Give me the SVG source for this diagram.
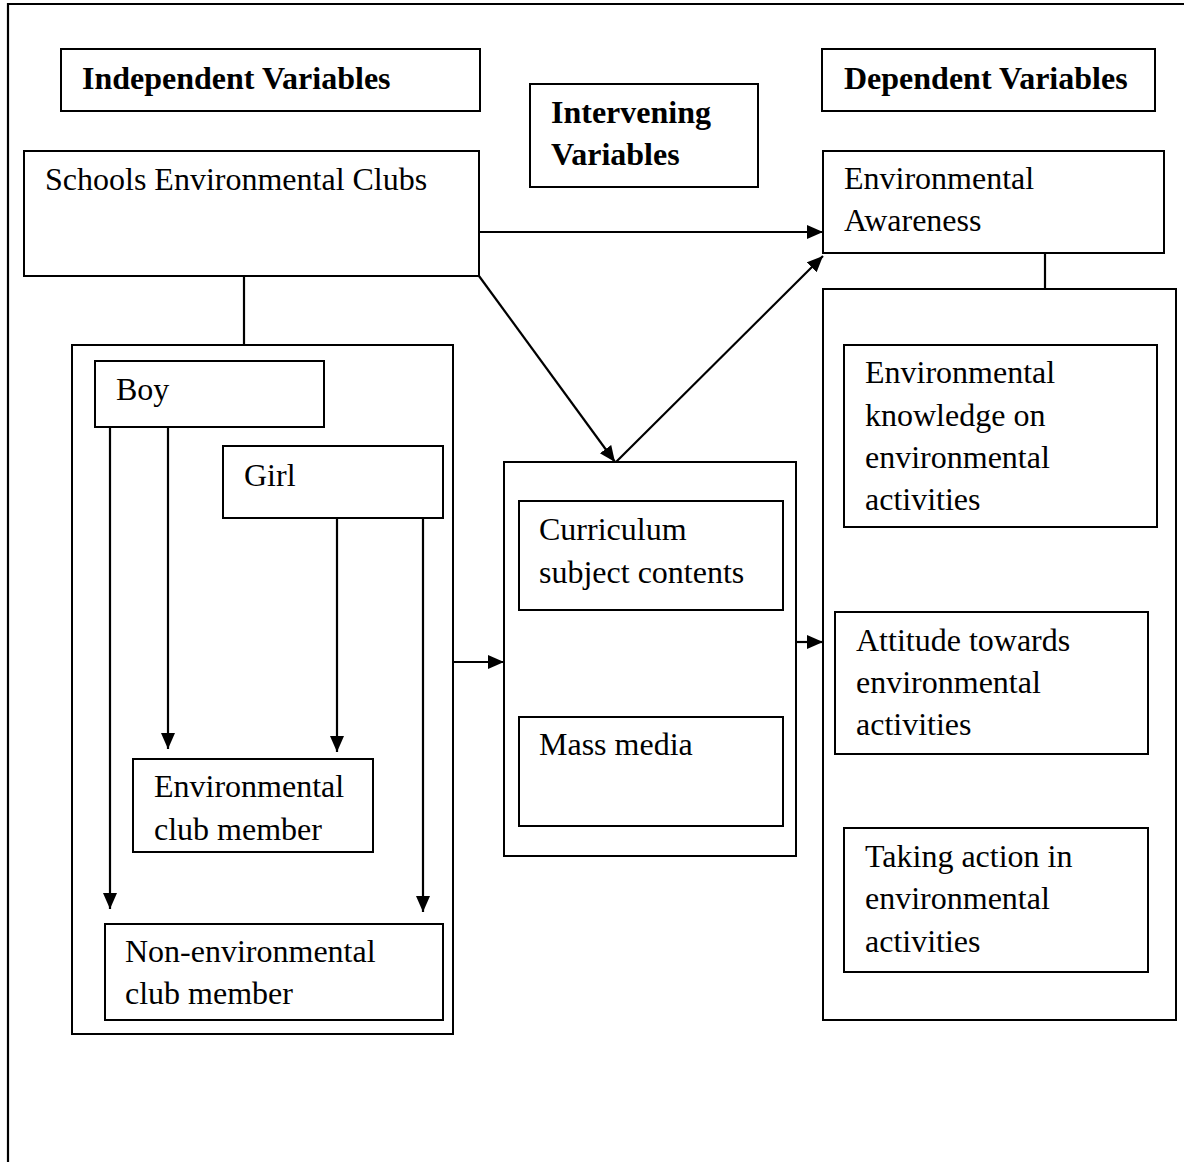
<svg xmlns="http://www.w3.org/2000/svg" width="1184" height="1162" viewBox="0 0 1184 1162">
<style>
.box{fill:none;stroke:#000;stroke-width:2}
.t{font-family:"Liberation Serif","Times New Roman",serif;font-size:32px;fill:#000}
.b{font-weight:bold}
.c{stroke:#000;stroke-width:2.2;fill:none}
</style>
<defs>
<marker id="ah" markerUnits="userSpaceOnUse" markerWidth="18" markerHeight="16" refX="16" refY="7" orient="auto">
<path d="M0,0 L16,7 L0,14 z" fill="#000"/>
</marker>
</defs>
<rect width="1184" height="1162" fill="#fff"/>
<g id="frame"><path class="c" d="M8,1162 V4 H1184"/></g>
<g id="independent-header"><rect class="box" x="61" y="49" width="419" height="62"/><text class="t b" x="82" y="89">Independent Variables</text></g>
<g id="intervening-header"><rect class="box" x="530" y="84" width="228" height="103"/><text class="t b" x="551" y="123">Intervening</text><text class="t b" x="551" y="165">Variables</text></g>
<g id="dependent-header"><rect class="box" x="822" y="49" width="333" height="62"/><text class="t b" x="844" y="89">Dependent Variables</text></g>
<g id="schools"><rect class="box" x="24" y="151" width="455" height="125"/><text class="t" x="45" y="190">Schools Environmental Clubs</text></g>
<g id="awareness"><rect class="box" x="823" y="151" width="341" height="102"/><text class="t" x="844" y="189">Environmental</text><text class="t" x="844" y="231">Awareness</text></g>
<g id="left-group"><rect class="box" x="72" y="345" width="381" height="689"/></g>
<g id="boy"><rect class="box" x="95" y="361" width="229" height="66"/><text class="t" x="116" y="400">Boy</text></g>
<g id="girl"><rect class="box" x="223" y="446" width="220" height="72"/><text class="t" x="244" y="486">Girl</text></g>
<g id="env-member"><rect class="box" x="133" y="759" width="240" height="93"/><text class="t" x="154" y="797">Environmental</text><text class="t" x="154" y="840">club member</text></g>
<g id="non-env-member"><rect class="box" x="105" y="924" width="338" height="96"/><text class="t" x="125" y="962">Non-environmental</text><text class="t" x="125" y="1004">club member</text></g>
<g id="middle-group"><rect class="box" x="504" y="462" width="292" height="394"/></g>
<g id="curriculum"><rect class="box" x="519" y="501" width="264" height="109"/><text class="t" x="539" y="540">Curriculum</text><text class="t" x="539" y="583">subject contents</text></g>
<g id="mass-media"><rect class="box" x="519" y="717" width="264" height="109"/><text class="t" x="539" y="755">Mass media</text></g>
<g id="right-group"><rect class="box" x="823" y="289" width="353" height="731"/></g>
<g id="knowledge"><rect class="box" x="844" y="345" width="313" height="182"/><text class="t" x="865" y="383">Environmental</text><text class="t" x="865" y="426">knowledge on</text><text class="t" x="865" y="468">environmental</text><text class="t" x="865" y="510">activities</text></g>
<g id="attitude"><rect class="box" x="835" y="612" width="313" height="142"/><text class="t" x="856" y="651">Attitude towards</text><text class="t" x="856" y="693">environmental</text><text class="t" x="856" y="735">activities</text></g>
<g id="action"><rect class="box" x="844" y="828" width="304" height="144"/><text class="t" x="865" y="867">Taking action in</text><text class="t" x="865" y="909">environmental</text><text class="t" x="865" y="952">activities</text></g>
<g id="connectors">
<line class="c" x1="244" y1="276" x2="244" y2="345"/>
<line class="c" x1="1045" y1="253" x2="1045" y2="289"/>
<line class="c" x1="479" y1="232" x2="823" y2="232" marker-end="url(#ah)"/>
<line class="c" x1="479" y1="276" x2="615" y2="462" marker-end="url(#ah)"/>
<line class="c" x1="616" y1="462" x2="823" y2="256" marker-end="url(#ah)"/>
<line class="c" x1="110" y1="427" x2="110" y2="909" marker-end="url(#ah)"/>
<line class="c" x1="168" y1="427" x2="168" y2="749" marker-end="url(#ah)"/>
<line class="c" x1="337" y1="518" x2="337" y2="752" marker-end="url(#ah)"/>
<line class="c" x1="423" y1="518" x2="423" y2="912" marker-end="url(#ah)"/>
<line class="c" x1="453" y1="662" x2="504" y2="662" marker-end="url(#ah)"/>
<line class="c" x1="796" y1="642" x2="823" y2="642" marker-end="url(#ah)"/>
</g>
</svg>
